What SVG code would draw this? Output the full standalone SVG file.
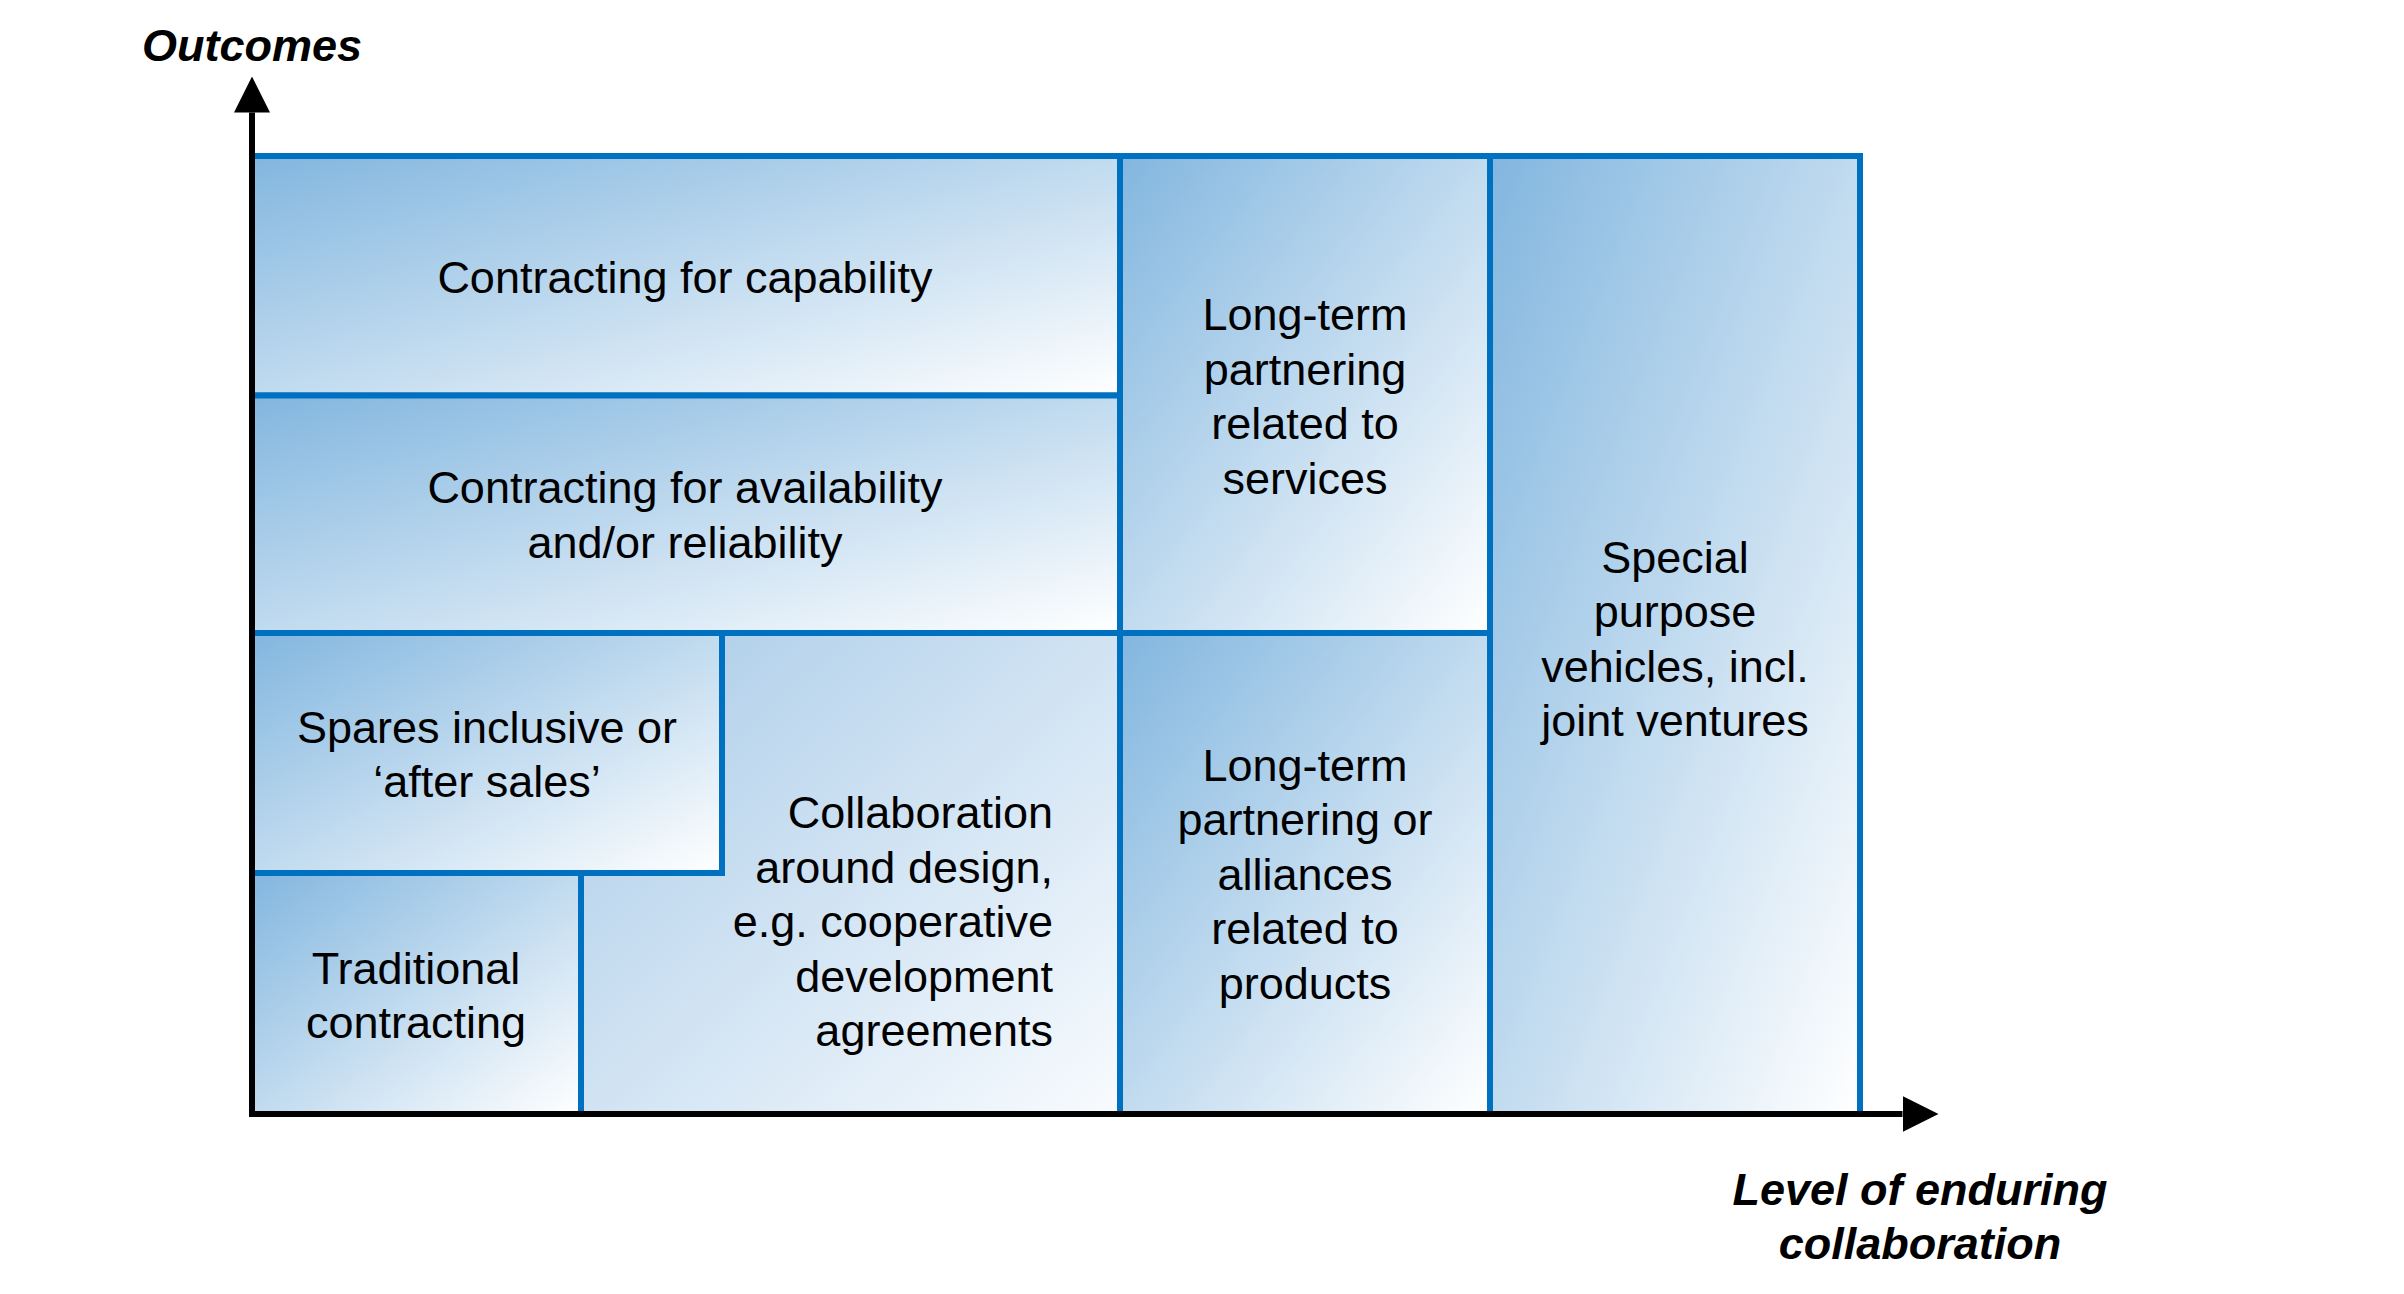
<svg xmlns="http://www.w3.org/2000/svg" width="2404" height="1294" viewBox="0 0 2404 1294">
<style>
.box{stroke:#0070C0;stroke-width:6;stroke-linejoin:miter}
.g{fill:url(#grad)}
.t{font-family:"Liberation Sans",Arial,Helvetica,sans-serif;font-size:45px;fill:#000;text-anchor:middle}
.r{text-anchor:end}
.ax{font-family:"Liberation Sans",Arial,Helvetica,sans-serif;font-size:45px;font-weight:bold;font-style:italic;fill:#000;text-anchor:middle}
.axis{stroke:#000;stroke-width:6;fill:none}
</style>
<defs>
<linearGradient id="grad" x1="0" y1="0" x2="1" y2="1">
<stop offset="0" stop-color="#82B6DF"/>
<stop offset="1" stop-color="#FFFFFF"/>
</linearGradient>
<linearGradient id="gradC" x1="0" y1="0" x2="1" y2="1">
<stop offset="0" stop-color="#A9CBE8"/>
<stop offset="1" stop-color="#F8FBFE"/>
</linearGradient>
<marker id="arrow" markerUnits="userSpaceOnUse" markerWidth="36" markerHeight="36" refX="0" refY="18" orient="auto" viewBox="0 0 36 36">
<path d="M0,0 L36,18 L0,36 Z" fill="#000"/>
</marker>
</defs>
<rect width="2404" height="1294" fill="#FFFFFF"/>

<g id="collaboration">
<polygon class="box" fill="url(#gradC)" points="722,633 1120,633 1120,1114 581,1114 581,873 722,873"/>
<text class="t r" x="1053" y="828">Collaboration</text>
<text class="t r" x="1053" y="882.5">around design,</text>
<text class="t r" x="1053" y="937">e.g. cooperative</text>
<text class="t r" x="1053" y="991.5">development</text>
<text class="t r" x="1053" y="1046">agreements</text>
</g>

<g id="capability">
<rect class="box g" x="252" y="156" width="868" height="239.5"/>
<text class="t" x="685" y="293">Contracting for capability</text>
</g>

<g id="availability">
<rect class="box g" x="252" y="395.5" width="868" height="237.5"/>
<text class="t" x="685" y="503">Contracting for availability</text>
<text class="t" x="685" y="557.5">and/or reliability</text>
</g>

<g id="spares">
<rect class="box g" x="252" y="633" width="470" height="240"/>
<text class="t" x="487" y="742.5">Spares inclusive or</text>
<text class="t" x="487" y="796.5">‘after sales’</text>
</g>

<g id="traditional">
<rect class="box g" x="252" y="873" width="329" height="241"/>
<text class="t" x="416" y="983.5">Traditional</text>
<text class="t" x="416" y="1038">contracting</text>
</g>

<g id="lt-services">
<rect class="box g" x="1120" y="156" width="370" height="477"/>
<text class="t" x="1305" y="330">Long-term</text>
<text class="t" x="1305" y="384.5">partnering</text>
<text class="t" x="1305" y="439">related to</text>
<text class="t" x="1305" y="493.5">services</text>
</g>

<g id="lt-products">
<rect class="box g" x="1120" y="633" width="370" height="481"/>
<text class="t" x="1305" y="780.5">Long-term</text>
<text class="t" x="1305" y="835">partnering or</text>
<text class="t" x="1305" y="889.5">alliances</text>
<text class="t" x="1305" y="944">related to</text>
<text class="t" x="1305" y="998.5">products</text>
</g>

<g id="spv">
<rect class="box g" x="1490" y="156" width="370" height="958"/>
<text class="t" x="1675" y="572.5">Special</text>
<text class="t" x="1675" y="627">purpose</text>
<text class="t" x="1675" y="681.5">vehicles, incl.</text>
<text class="t" x="1675" y="736">joint ventures</text>
</g>

<g id="connectors">
<line class="axis" x1="252" y1="1117" x2="252" y2="112.5" marker-end="url(#arrow)"/>
<line class="axis" x1="249" y1="1114" x2="1902.5" y2="1114" marker-end="url(#arrow)"/>
</g>

<g id="axis-labels">
<text class="ax" x="252" y="60.5">Outcomes</text>
<text class="ax" x="1920" y="1205">Level of enduring</text>
<text class="ax" x="1920" y="1258.5">collaboration</text>
</g>
</svg>
